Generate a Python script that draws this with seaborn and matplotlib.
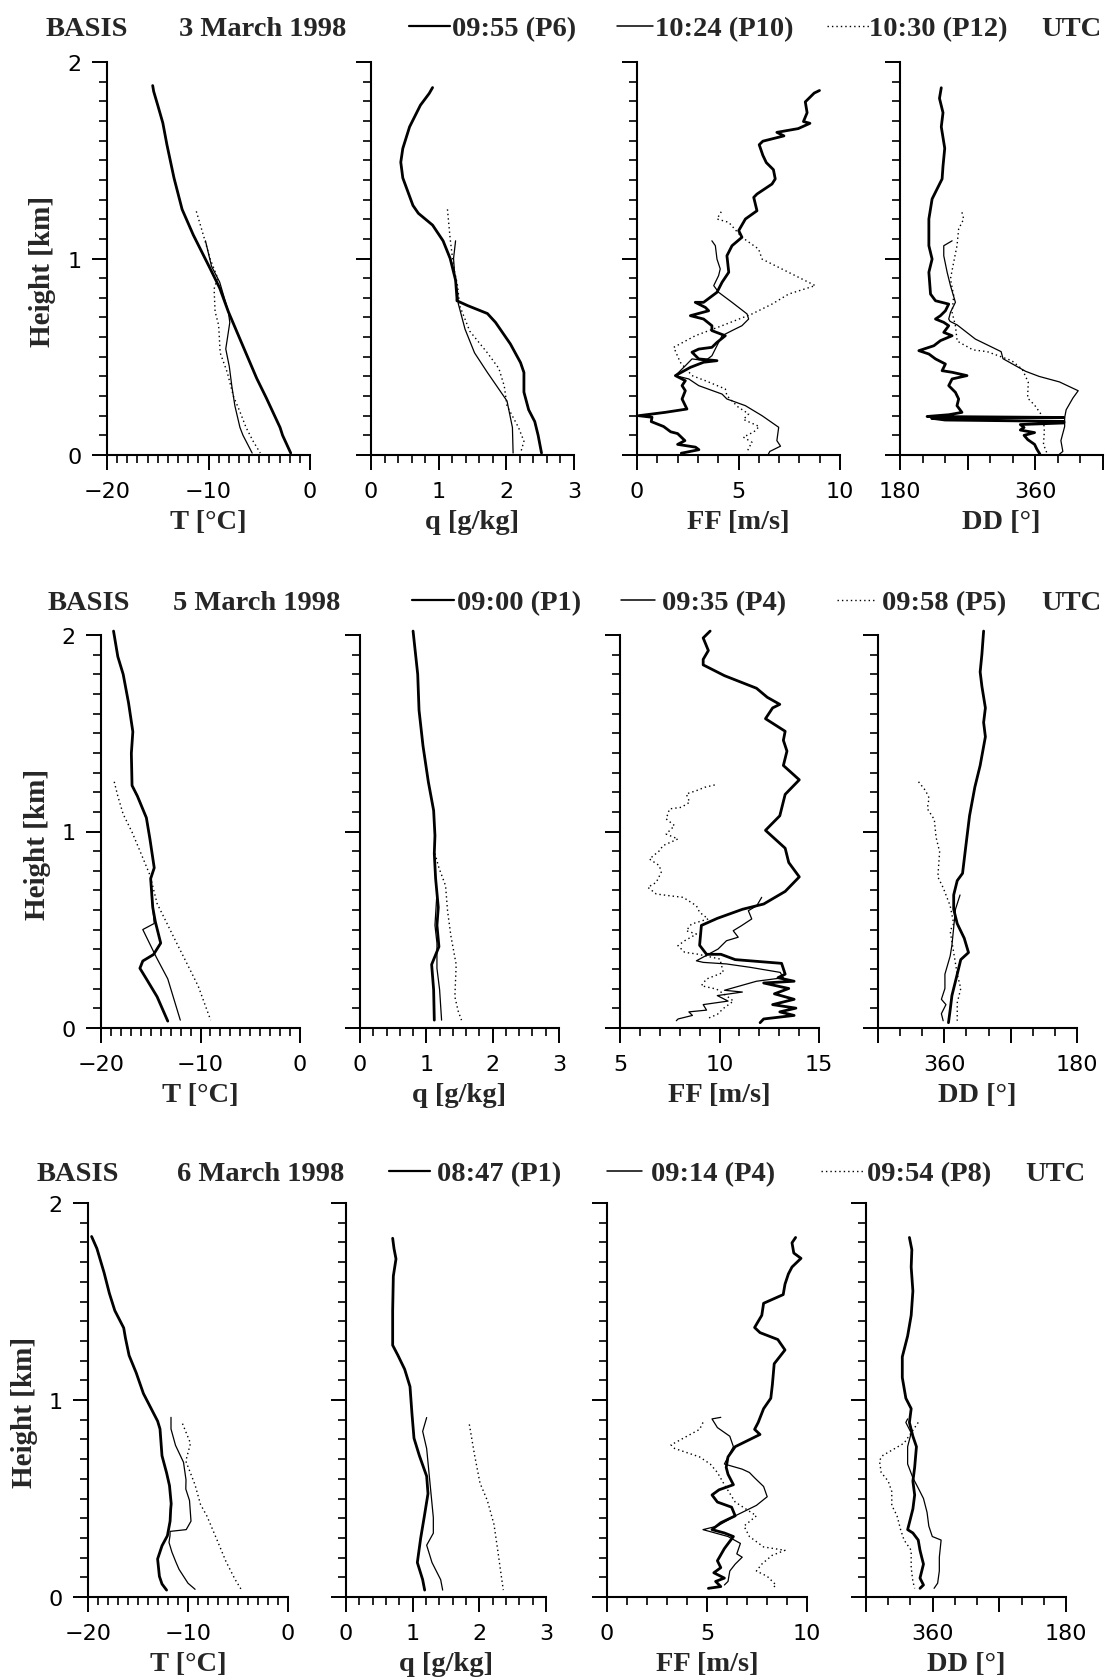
import matplotlib
matplotlib.use("Agg")
import matplotlib.pyplot as plt
from matplotlib.lines import Line2D
from matplotlib.ticker import MultipleLocator, FixedLocator, FuncFormatter
import seaborn as sns

# ---------------------------------------------------------------------------
# BASIS radiosonde profiles: height [km] and value lists, top to bottom
# ---------------------------------------------------------------------------

# ---- 3 March 1998 : 09:55 (P6), 10:24 (P10), 10:30 (P12) ----
m3_T_p6_z = [1.88, 1.85, 1.78, 1.69, 1.58, 1.41, 1.25, 1.12, 0.95, 0.85, 0.73, 0.59, 0.39, 0.29, 0.14, 0.10, 0.01]
m3_T_p6 = [-15.5, -15.4, -15.0, -14.5, -14.1, -13.4, -12.6, -11.5, -9.85, -8.9, -8.05, -6.9, -5.25, -4.3, -2.95, -2.7, -1.9]
m3_T_p10_z = [1.09, 0.96, 0.88, 0.73, 0.675, 0.59, 0.54, 0.45, 0.35, 0.25, 0.14, 0.10, 0.01]
m3_T_p10 = [-10.3, -9.7, -8.9, -8.05, -7.9, -8.15, -8.3, -7.95, -7.7, -7.4, -6.9, -6.6, -5.7]
m3_T_p12_z = [1.24, 1.10, 1.0, 0.90, 0.845, 0.73, 0.66, 0.52, 0.42, 0.30, 0.22, 0.14, 0.07, 0.01]
m3_T_p12 = [-11.2, -10.4, -9.85, -9.1, -9.45, -9.35, -9.0, -8.85, -8.15, -7.55, -6.9, -6.3, -5.6, -4.9]

m3_q_p6_z = [1.87, 1.84, 1.78, 1.67, 1.56, 1.49, 1.41, 1.34, 1.27, 1.23, 1.17, 1.09, 1.0, 0.89, 0.80, 0.785,
             0.76, 0.72, 0.675, 0.61, 0.565, 0.47, 0.42, 0.32, 0.23, 0.17, 0.10, 0.01]
m3_q_p6 = [0.91, 0.86, 0.73, 0.57, 0.47, 0.44, 0.47, 0.545, 0.62, 0.70, 0.91, 1.065, 1.17, 1.25, 1.27, 1.27,
           1.43, 1.72, 1.84, 1.97, 2.06, 2.21, 2.26, 2.26, 2.33, 2.42, 2.47, 2.52]
m3_q_p10_z = [1.09, 1.0, 0.90, 0.83, 0.77, 0.64, 0.52, 0.42, 0.32, 0.275, 0.14, 0.01]
m3_q_p10 = [1.25, 1.22, 1.24, 1.28, 1.29, 1.39, 1.53, 1.72, 1.92, 2.01, 2.09, 2.10]
m3_q_p12_z = [1.25, 1.10, 0.96, 0.86, 0.76, 0.63, 0.52, 0.44, 0.35, 0.25, 0.14, 0.07, 0.01]
m3_q_p12 = [1.13, 1.17, 1.22, 1.28, 1.31, 1.46, 1.72, 1.89, 1.97, 2.01, 2.18, 2.26, 2.21]

m3_FF_p6_z = [1.855, 1.842, 1.797, 1.742, 1.697, 1.688, 1.661, 1.642, 1.624, 1.597, 1.579, 1.525, 1.488, 1.452,
              1.405, 1.379, 1.328, 1.311, 1.243, 1.201, 1.142, 1.108, 1.065, 1.014, 0.93, 0.879, 0.828, 0.777,
              0.777, 0.751, 0.734, 0.709, 0.692, 0.658, 0.633, 0.607, 0.573, 0.548, 0.539, 0.523, 0.489, 0.48,
              0.472, 0.446, 0.404, 0.378, 0.353, 0.327, 0.285, 0.234, 0.217, 0.2, 0.192, 0.17, 0.145, 0.118,
              0.109, 0.073, 0.054, 0.04, 0.027, 0.009]
m3_FF_p6 = [8.99, 8.73, 8.29, 8.38, 8.2, 8.52, 7.94, 6.89, 7.24, 6.2, 6.02, 6.2, 6.37, 6.72,
            6.81, 6.65, 5.91, 5.75, 5.91, 5.34, 5.01, 5.17, 4.68, 4.43, 4.52, 4.19, 3.94, 3.28,
            2.87, 3.37, 3.53, 2.63, 3.28, 3.69, 3.69, 4.35, 3.94, 3.69, 3.04, 2.71, 3.04, 3.94,
            3.28, 2.63, 1.89, 2.38, 2.22, 2.38, 2.22, 2.46, 1.39, 0.08, 0.74, 0.7, 1.31, 1.66,
            2.0, 2.36, 2.0, 2.88, 3.05, 2.18]
m3_FF_p10_z = [1.09, 1.065, 0.997, 0.947, 0.913, 0.862, 0.828, 0.777, 0.718, 0.692, 0.658, 0.633, 0.607, 0.573,
               0.505, 0.48, 0.489, 0.454, 0.404, 0.387, 0.353, 0.31, 0.285, 0.251, 0.2, 0.141, 0.073, 0.045,
               0.018, 0.0]
m3_FF_p10 = [3.69, 3.86, 3.94, 4.1, 4.02, 3.78, 4.02, 4.68, 5.42, 5.5, 5.17, 4.68, 4.19, 4.02,
             3.69, 3.37, 2.71, 2.38, 1.89, 2.55, 3.04, 4.19, 4.43, 5.34, 6.16, 6.98, 6.89, 7.07,
             6.54, 6.45]
m3_FF_p12_z = [1.238, 1.201, 1.184, 1.108, 1.048, 0.997, 0.862, 0.819, 0.768, 0.718, 0.658, 0.607, 0.548, 0.472,
               0.404, 0.378, 0.336, 0.302, 0.245, 0.209, 0.181, 0.145, 0.118, 0.091, 0.064, 0.036, 0.009]
m3_FF_p12 = [4.15, 3.94, 4.52, 5.17, 5.99, 6.16, 8.78, 7.47, 6.65, 5.67, 4.19, 2.87, 1.81, 2.13,
             2.71, 3.37, 4.35, 4.43, 4.97, 5.5, 5.24, 6.02, 5.76, 5.24, 5.67, 5.5, 5.41]

m3_DD_p6_z = [1.869, 1.815, 1.742, 1.67, 1.561, 1.47, 1.405, 1.303, 1.201, 1.065, 0.997, 0.93, 0.819, 0.785,
              0.768, 0.734, 0.709, 0.692, 0.675, 0.658, 0.624, 0.607, 0.582, 0.556, 0.531, 0.514, 0.489, 0.463,
              0.429, 0.421, 0.404, 0.387, 0.353, 0.319, 0.285, 0.251, 0.217, 0.205, 0.196, 0.191, 0.187, 0.178,
              0.171, 0.163, 0.155, 0.14, 0.127, 0.114, 0.10, 0.078, 0.054, 0.03, 0.005]
m3_DD_p6 = [234.9, 232.5, 237.2, 234.9, 239.5, 237.2, 236.0, 222.7, 218.4, 218.4, 222.7, 218.4, 220.6, 227.2,
            244.8, 240.4, 233.8, 227.2, 238.2, 244.8, 238.2, 249.3, 233.8, 225.0, 205.1, 218.4, 227.2, 240.4,
            236.0, 249.3, 269.1, 249.3, 244.8, 253.7, 258.0, 255.8, 262.4, 245.0, 216.0, 398.0, 222.0, 240.0,
            398.0, 398.0, 340.0, 345.0, 340.0, 359.0, 345.0, 350.0, 359.0, 362.0, 366.0]
m3_DD_p10_z = [1.09, 1.065, 1.014, 0.93, 0.862, 0.777, 0.726, 0.692, 0.68, 0.662, 0.59, 0.526, 0.49, 0.426,
               0.40, 0.372, 0.327, 0.29, 0.23, 0.19, 0.145, 0.073, 0.018, 0.004]
m3_DD_p10 = [249.3, 238.2, 238.2, 242.7, 247.1, 253.7, 247.1, 244.8, 246.6, 256.0, 280.2, 314.5, 317.0, 347.0,
             365.0, 392.0, 417.0, 410.0, 401.0, 399.0, 399.0, 394.0, 396.6, 392.0]
m3_DD_p12_z = [1.235, 1.201, 1.15, 1.065, 0.981, 0.896, 0.811, 0.726, 0.658, 0.58, 0.535, 0.526, 0.48, 0.436,
               0.37, 0.29, 0.254, 0.19, 0.12, 0.054, 0.009]
m3_DD_p12 = [262.4, 264.7, 258.0, 255.8, 251.4, 247.1, 251.4, 249.3, 253.7, 256.0, 277.0, 296.0, 328.6, 342.7,
             350.6, 349.7, 359.0, 370.8, 372.0, 370.8, 375.5]

# ---- 5 March 1998 : 09:00 (P1), 09:35 (P4), 09:58 (P5) ----
m5_T_p1_z = [2.02, 1.89, 1.80, 1.654, 1.508, 1.398, 1.234, 1.18, 1.07, 0.961, 0.815, 0.76, 0.614, 0.541,
             0.432, 0.374, 0.341, 0.304, 0.25, 0.159, 0.035]
m5_T_p1 = [-18.74, -18.31, -17.77, -17.23, -16.8, -16.95, -16.88, -16.34, -15.44, -15.08, -14.65, -15.01, -14.8,
           -14.54, -14.0, -14.72, -15.8, -16.09, -15.44, -14.36, -13.29]
m5_T_p4_z = [0.706, 0.614, 0.532, 0.501, 0.359, 0.25, 0.04]
m5_T_p4 = [-14.9, -14.8, -14.65, -15.8, -14.43, -13.29, -12.03]
m5_T_p5_z = [1.253, 1.18, 1.088, 0.997, 0.888, 0.778, 0.633, 0.56, 0.45, 0.341, 0.213, 0.04]
m5_T_p5 = [-18.67, -18.31, -17.77, -16.88, -15.98, -15.08, -14.36, -13.64, -12.57, -11.49, -10.23, -8.98]

m5_q_p1_z = [2.02, 1.80, 1.617, 1.435, 1.253, 1.107, 0.979, 0.888, 0.76, 0.614, 0.523, 0.414, 0.323, 0.195, 0.04]
m5_q_p1 = [0.80, 0.87, 0.89, 0.95, 1.03, 1.11, 1.13, 1.12, 1.14, 1.18, 1.16, 1.19, 1.08, 1.11, 1.12]
m5_q_p4_z = [0.687, 0.523, 0.432, 0.304, 0.195, 0.04]
m5_q_p4 = [1.16, 1.13, 1.16, 1.16, 1.20, 1.23]
m5_q_p5_z = [0.888, 0.815, 0.724, 0.596, 0.469, 0.323, 0.159, 0.086, 0.04]
m5_q_p5 = [1.13, 1.19, 1.29, 1.32, 1.37, 1.45, 1.43, 1.48, 1.53]

m5_FF_p1_z = [2.02, 1.985, 1.921, 1.876, 1.848, 1.793, 1.729, 1.683, 1.647, 1.629, 1.574, 1.51, 1.464, 1.409,
              1.336, 1.263, 1.189, 1.08, 1.006, 0.915, 0.842, 0.769, 0.695, 0.631, 0.604, 0.558, 0.522, 0.421,
              0.375, 0.375, 0.348, 0.329, 0.274, 0.256, 0.238, 0.229, 0.201, 0.174, 0.146, 0.119, 0.101, 0.082,
              0.064, 0.046, 0.027]
m5_FF_p1 = [9.53, 9.18, 9.44, 9.18, 9.18, 10.25, 11.86, 12.4, 13.03, 12.67, 12.31, 13.3, 13.21, 13.39,
            13.21, 14.01, 13.3, 13.03, 12.31, 13.3, 13.48, 14.01, 13.3, 12.22, 11.15, 9.89, 9.09, 9.0,
            9.35, 10.07, 10.79, 13.12, 13.3, 12.94, 13.75, 12.22, 13.48, 12.76, 13.75, 12.67, 13.84, 13.03,
            13.75, 12.22, 12.04]
m5_FF_p4_z = [0.665, 0.622, 0.597, 0.555, 0.521, 0.495, 0.462, 0.444, 0.402, 0.342, 0.334, 0.326, 0.309, 0.283,
              0.256, 0.238, 0.192, 0.183, 0.165, 0.137, 0.119, 0.091, 0.082, 0.064, 0.046, 0.037]
m5_FF_p4 = [12.12, 11.87, 11.45, 11.62, 11.11, 10.69, 10.94, 10.35, 9.93, 8.84, 9.18, 10.35, 11.53, 13.05,
            13.21, 11.86, 10.25, 11.15, 9.89, 10.43, 9.18, 9.35, 8.46, 8.64, 7.92, 7.83]
m5_FF_p5_z = [1.237, 1.225, 1.208, 1.191, 1.149, 1.123, 1.115, 1.064, 1.03, 0.987, 0.962, 0.928, 0.902, 0.86,
              0.826, 0.792, 0.741, 0.716, 0.682, 0.673, 0.665, 0.622, 0.589, 0.555, 0.529, 0.495, 0.478, 0.444,
              0.419, 0.385, 0.377, 0.351, 0.283, 0.249, 0.215, 0.198, 0.164, 0.137, 0.10, 0.07, 0.046]
m5_FF_p5 = [9.76, 9.26, 8.84, 8.33, 8.5, 8.08, 7.49, 7.32, 7.74, 7.32, 7.91, 7.16, 6.98, 6.48,
            6.98, 7.07, 6.82, 6.4, 6.82, 7.49, 8.17, 8.84, 9.0, 9.43, 8.59, 8.33, 8.84, 8.25,
            7.91, 8.25, 8.84, 10.02, 10.19, 9.34, 9.09, 9.85, 10.35, 10.7, 10.2, 9.9, 9.35]

m5_DD_p1_z = [2.02, 1.903, 1.812, 1.738, 1.629, 1.555, 1.482, 1.336, 1.226, 1.08, 0.933, 0.787, 0.75, 0.677,
              0.604, 0.531, 0.457, 0.384, 0.348, 0.274, 0.165, 0.091, 0.027]
m5_DD_p1 = [306.7, 309.0, 311.4, 309.0, 304.3, 306.7, 304.3, 311.4, 318.6, 325.8, 330.6, 335.3, 342.5, 347.3,
            347.3, 342.5, 333.0, 327.2, 337.7, 342.5, 349.7, 352.1, 354.4]
m5_DD_p4_z = [0.677, 0.604, 0.512, 0.421, 0.366, 0.274, 0.201, 0.146, 0.119, 0.073, 0.037]
m5_DD_p4 = [338.7, 344.9, 347.3, 349.7, 352.1, 359.2, 359.2, 364.0, 357.8, 364.0, 361.6]
m5_DD_p5_z = [1.253, 1.208, 1.171, 1.116, 1.061, 0.97, 0.897, 0.769, 0.714, 0.622, 0.531, 0.494, 0.384, 0.274,
              0.201, 0.128, 0.037]
m5_DD_p5 = [395.0, 385.5, 380.7, 383.1, 373.6, 371.2, 366.4, 368.8, 361.6, 352.1, 347.3, 352.1, 347.3, 342.5,
            337.7, 342.5, 342.5]

# ---- 6 March 1998 : 08:47 (P1), 09:14 (P4), 09:54 (P8) ----
m6_T_p1_z = [1.83, 1.769, 1.646, 1.541, 1.454, 1.366, 1.313, 1.226, 1.138, 1.033, 0.963, 0.893, 0.853, 0.717,
             0.63, 0.565, 0.473, 0.447, 0.385, 0.311, 0.26, 0.193, 0.105, 0.066, 0.035]
m6_T_p1 = [-19.64, -19.11, -18.39, -17.86, -17.32, -16.43, -16.25, -15.89, -15.18, -14.46, -13.75, -13.04, -12.8,
           -12.6, -12.14, -11.85, -11.68, -11.73, -11.79, -12.06, -12.6, -13.04, -12.86, -12.6, -12.14]
m6_T_p4_z = [0.912, 0.853, 0.77, 0.684, 0.595, 0.548, 0.49, 0.385, 0.342, 0.333, 0.311, 0.277, 0.228, 0.176,
             0.14, 0.07, 0.039]
m6_T_p4 = [-11.7, -11.7, -11.25, -10.45, -10.2, -10.22, -9.85, -9.7, -10.18, -11.79, -11.8, -11.9, -11.61,
           -11.2, -10.89, -10.0, -9.29]
m6_T_p8_z = [0.88, 0.78, 0.69, 0.57, 0.47, 0.41, 0.29, 0.18, 0.09, 0.035]
m6_T_p8 = [-10.55, -9.75, -10.22, -9.3, -8.75, -8.1, -7.1, -6.2, -5.3, -4.64]

m6_q_p1_z = [1.821, 1.769, 1.716, 1.629, 1.454, 1.278, 1.226, 1.156, 1.068, 0.928, 0.806, 0.718, 0.613, 0.525,
             0.42, 0.298, 0.175, 0.088, 0.035]
m6_q_p1 = [0.70, 0.72, 0.75, 0.71, 0.70, 0.70, 0.78, 0.88, 0.96, 0.99, 1.02, 1.10, 1.21, 1.23, 1.18, 1.12,
           1.07, 1.15, 1.18]
m6_q_p4_z = [0.911, 0.841, 0.753, 0.578, 0.403, 0.324, 0.263, 0.175, 0.088, 0.035]
m6_q_p4 = [1.21, 1.15, 1.21, 1.26, 1.31, 1.31, 1.21, 1.29, 1.42, 1.45]
m6_q_p8_z = [0.876, 0.718, 0.578, 0.49, 0.368, 0.228, 0.105, 0.035]
m6_q_p8 = [1.85, 1.93, 2.01, 2.12, 2.22, 2.28, 2.33, 2.36]

m6_FF_p1_z = [1.825, 1.798, 1.746, 1.719, 1.675, 1.64, 1.588, 1.535, 1.491, 1.43, 1.368, 1.342, 1.307, 1.254,
              1.184, 1.079, 1.009, 0.956, 0.886, 0.851, 0.825, 0.763, 0.711, 0.658, 0.623, 0.57, 0.544, 0.518,
              0.482, 0.456, 0.412, 0.377, 0.342, 0.325, 0.307, 0.246, 0.184, 0.149, 0.123, 0.096, 0.079, 0.053,
              0.044]
m6_FF_p1 = [9.43, 9.25, 9.34, 9.7, 9.25, 9.07, 8.9, 8.81, 7.83, 7.74, 7.38, 7.65, 8.54, 8.9,
            8.36, 8.27, 8.19, 7.83, 7.56, 7.38, 7.65, 6.41, 6.05, 5.96, 6.05, 6.32, 5.6, 5.25,
            5.52, 6.23, 6.41, 5.69, 5.25, 5.87, 6.32, 5.87, 5.52, 5.69, 5.34, 5.87, 5.43, 5.69,
            5.07]
m6_FF_p4_z = [0.912, 0.904, 0.86, 0.816, 0.763, 0.711, 0.675, 0.649, 0.632, 0.605, 0.561, 0.509, 0.465, 0.412,
              0.36, 0.342, 0.307, 0.272, 0.219, 0.202, 0.167, 0.132, 0.079, 0.061]
m6_FF_p4 = [5.69, 5.25, 5.52, 6.14, 6.32, 6.05, 5.87, 6.76, 7.12, 7.38, 7.83, 8.01, 7.47, 6.41,
            5.52, 4.8, 6.05, 6.67, 6.49, 6.76, 6.41, 6.14, 6.05, 5.87]
m6_FF_p8_z = [0.886, 0.851, 0.772, 0.754, 0.711, 0.675, 0.632, 0.57, 0.482, 0.447, 0.412, 0.36, 0.307, 0.254,
              0.237, 0.211, 0.167, 0.132, 0.105, 0.061, 0.044]
m6_FF_p8 = [4.8, 4.63, 3.2, 3.38, 4.63, 5.16, 5.52, 5.87, 6.41, 6.94, 7.47, 6.85, 7.12, 7.83,
            8.9, 8.25, 7.74, 7.47, 8.01, 8.45, 8.27]

m6_DD_p1_z = [1.825, 1.763, 1.675, 1.553, 1.43, 1.325, 1.219, 1.114, 1.009, 0.956, 0.886, 0.816, 0.763, 0.658,
              0.588, 0.518, 0.447, 0.377, 0.342, 0.325, 0.289, 0.237, 0.202, 0.167, 0.096, 0.061, 0.044]
m6_DD_p1 = [391.4, 388.1, 389.0, 386.7, 389.0, 393.8, 401.0, 401.0, 396.2, 389.0, 391.4, 386.7, 381.9, 384.3,
            386.7, 384.3, 386.7, 391.4, 393.8, 386.7, 379.5, 377.1, 374.8, 372.4, 377.1, 372.4, 377.1]
m6_DD_p4_z = [0.904, 0.886, 0.833, 0.763, 0.675, 0.605, 0.553, 0.5, 0.43, 0.36, 0.307, 0.289, 0.202, 0.132,
              0.07, 0.044]
m6_DD_p4 = [393.8, 396.2, 389.0, 393.8, 393.8, 386.7, 379.5, 372.4, 367.6, 365.2, 360.5, 348.6, 351.0, 351.0,
            353.3, 358.1]
m6_DD_p8_z = [0.886, 0.781, 0.719, 0.693, 0.632, 0.588, 0.535, 0.465, 0.412, 0.342, 0.289, 0.237, 0.149, 0.079,
              0.044]
m6_DD_p8 = [379.5, 398.6, 427.1, 431.9, 429.5, 420.0, 415.2, 415.2, 408.1, 403.3, 398.6, 389.0, 389.0, 386.7,
            384.3]

# ---- titles, sounding times and axis ranges ----
dates = ["3 March 1998", "5 March 1998", "6 March 1998"]
launch_labels = [["09:55 (P6)", "10:24 (P10)", "10:30 (P12)"],
                 ["09:00 (P1)", "09:35 (P4)", "09:58 (P5)"],
                 ["08:47 (P1)", "09:14 (P4)", "09:54 (P8)"]]
ff_ranges = [(0, 10), (5, 15), (0, 10)]
dd_ranges = [(180, 450), (450, 180), (450, 180)]
xlabels = ["T [°C]", "q [g/kg]", "FF [m/s]", "DD [°]"]

profiles = [
    {"T": [(m3_T_p6_z, m3_T_p6), (m3_T_p10_z, m3_T_p10), (m3_T_p12_z, m3_T_p12)],
     "q": [(m3_q_p6_z, m3_q_p6), (m3_q_p10_z, m3_q_p10), (m3_q_p12_z, m3_q_p12)],
     "FF": [(m3_FF_p6_z, m3_FF_p6), (m3_FF_p10_z, m3_FF_p10), (m3_FF_p12_z, m3_FF_p12)],
     "DD": [(m3_DD_p6_z, m3_DD_p6), (m3_DD_p10_z, m3_DD_p10), (m3_DD_p12_z, m3_DD_p12)]},
    {"T": [(m5_T_p1_z, m5_T_p1), (m5_T_p4_z, m5_T_p4), (m5_T_p5_z, m5_T_p5)],
     "q": [(m5_q_p1_z, m5_q_p1), (m5_q_p4_z, m5_q_p4), (m5_q_p5_z, m5_q_p5)],
     "FF": [(m5_FF_p1_z, m5_FF_p1), (m5_FF_p4_z, m5_FF_p4), (m5_FF_p5_z, m5_FF_p5)],
     "DD": [(m5_DD_p1_z, m5_DD_p1), (m5_DD_p4_z, m5_DD_p4), (m5_DD_p5_z, m5_DD_p5)]},
    {"T": [(m6_T_p1_z, m6_T_p1), (m6_T_p4_z, m6_T_p4), (m6_T_p8_z, m6_T_p8)],
     "q": [(m6_q_p1_z, m6_q_p1), (m6_q_p4_z, m6_q_p4), (m6_q_p8_z, m6_q_p8)],
     "FF": [(m6_FF_p1_z, m6_FF_p1), (m6_FF_p4_z, m6_FF_p4), (m6_FF_p8_z, m6_FF_p8)],
     "DD": [(m6_DD_p1_z, m6_DD_p1), (m6_DD_p4_z, m6_DD_p4), (m6_DD_p8_z, m6_DD_p8)]},
]

# ---------------------------------------------------------------------------
# styling and layout
# ---------------------------------------------------------------------------
sns.set_theme(style="ticks")
plt.rcParams["font.family"] = ["DejaVu Sans"]
SERIF = ["Liberation Serif", "DejaVu Serif"]

W, H = 1106, 1681
fig = plt.figure(figsize=(W / 100, H / 100), dpi=100)
fig.patch.set_facecolor("white")

# panel frames in pixels: column lefts, width, y of 0 km, y of 2 km
frames = [
    dict(lefts=[107, 371, 637, 900], width=203, y0=456, y2=63),
    dict(lefts=[101, 360, 620, 878], width=199, y0=1029, y2=636),
    dict(lefts=[88, 346, 607, 866], width=200, y0=1598, y2=1204),
]
# header text anchors in pixels (baseline y, x of each piece)
headers = [
    dict(base=36, basis=46, date=179, lines=[(409, 450), (617, 653), (827, 869)],
         texts=[452, 655, 869], utc=1041),
    dict(base=610, basis=48, date=173, lines=[(412, 454), (621, 655), (837, 876)],
         texts=[457, 662, 882], utc=1041),
    dict(base=1181, basis=37, date=177, lines=[(389, 430), (607, 642), (821, 864)],
         texts=[437, 651, 867], utc=1025),
]

line_styles = [
    dict(lw=2.0, ls="-"),
    dict(lw=0.9, ls="-"),
    dict(lw=1.0, ls=(0, (1, 2.2))),
]
legend_styles = [
    dict(lw=1.6, ls="-"),
    dict(lw=1.1, ls="-"),
    dict(lw=1.0, ls=(0, (1, 2.2))),
]

HEAD_FS = 20.5
LABEL_FS = 20.5
TICK_FS = 16


def style_axis(ax, var, row, col):
    for side in ("top", "right"):
        ax.spines[side].set_visible(False)
    for side in ("left", "bottom"):
        ax.spines[side].set_linewidth(1.5)
        ax.spines[side].set_color("black")
    ax.set_ylim(0, 2)
    ax.yaxis.set_major_locator(MultipleLocator(1))
    ax.yaxis.set_minor_locator(MultipleLocator(0.1))
    if var == "T":
        ax.set_xlim(-20, 0)
        ax.xaxis.set_major_locator(MultipleLocator(10))
        ax.xaxis.set_minor_locator(MultipleLocator(1))
    elif var == "q":
        ax.set_xlim(0, 3)
        ax.xaxis.set_major_locator(MultipleLocator(1))
        ax.xaxis.set_minor_locator(MultipleLocator(0.2))
    elif var == "FF":
        ax.set_xlim(*ff_ranges[row])
        ax.xaxis.set_major_locator(MultipleLocator(5))
        ax.xaxis.set_minor_locator(MultipleLocator(1))
    else:
        ax.set_xlim(*dd_ranges[row])
        ax.xaxis.set_major_locator(FixedLocator([180, 270, 360, 450]))
        ax.xaxis.set_minor_locator(MultipleLocator(30))
        ax.xaxis.set_major_formatter(
            FuncFormatter(lambda v, p: f"{int(round(v))}" if round(v) in (180, 360) else ""))
    ax.tick_params(which="major", direction="out", length=11, width=1.4, color="black",
                   labelsize=TICK_FS, pad=7.5, labelcolor="black")
    ax.tick_params(which="minor", direction="out", length=5.5, width=1.2, color="black")
    ax.tick_params(axis="y", labelleft=(col == 0))
    ax.set_xlabel(xlabels[col], fontsize=LABEL_FS, fontweight="bold", family=SERIF, labelpad=6)
    if col == 0:
        ax.set_ylabel("Height [km]", fontsize=LABEL_FS + 0.5, fontweight="bold", family=SERIF)
        ax.yaxis.set_label_coords(-0.25, 0.47)
    else:
        ax.set_ylabel("")
    ax.grid(False)
    ax.set_facecolor("white")


variables = ["T", "q", "FF", "DD"]
for row, frame in enumerate(frames):
    for col, var in enumerate(variables):
        left = frame["lefts"][col]
        rect = [left / W, 1 - frame["y0"] / H, frame["width"] / W, (frame["y0"] - frame["y2"]) / H]
        ax = fig.add_axes(rect)
        for k, (zs, vals) in enumerate(profiles[row][var]):
            st = line_styles[k]
            sns.lineplot(x=vals, y=zs, ax=ax, sort=False, estimator=None, color="black",
                         linewidth=st["lw"], linestyle=st["ls"], clip_on=False,
                         solid_joinstyle="round")
        style_axis(ax, var, row, col)

    hd = headers[row]
    yb = 1 - hd["base"] / H
    ymid = 1 - (hd["base"] - 9) / H
    txt = dict(fontsize=HEAD_FS, fontweight="bold", family=SERIF, ha="left", va="baseline")
    fig.text(hd["basis"] / W, yb, "BASIS", **txt)
    fig.text(hd["date"] / W, yb, dates[row], **txt)
    for k in range(3):
        x1, x2 = hd["lines"][k]
        st = legend_styles[k]
        fig.add_artist(Line2D([x1 / W, x2 / W], [ymid, ymid], transform=fig.transFigure,
                              color="black", lw=st["lw"], ls=st["ls"]))
        fig.text(hd["texts"][k] / W, yb, launch_labels[row][k], **txt)
    fig.text(hd["utc"] / W, yb, "UTC", **txt)

fig.savefig("out.png", dpi=100, facecolor="white")
